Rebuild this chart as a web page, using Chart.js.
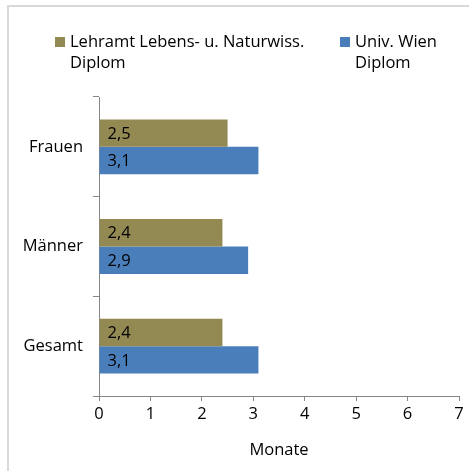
<!DOCTYPE html>
<html>
<head>
<meta charset="utf-8">
<script src="https://cdn.jsdelivr.net/npm/chart.js@4/dist/chart.umd.min.js"></script>
<style>
  body { margin: 0; background: #fff; }
</style>
</head>
<body>
<canvas id="chart" width="469" height="471"></canvas>
<script>
const categories = ['Frauen', 'Männer', 'Gesamt'];
const lehramtValues = [2.5, 2.4, 2.4];
const wienValues = [3.1, 2.9, 3.1];
const seriesLabels = [['Lehramt Lebens- u. Naturwiss.', 'Diplom'], ['Univ. Wien', 'Diplom']];
const xTicks = [0, 1, 2, 3, 4, 5, 6, 7];

const FONT = '"Open Sans", Lato, sans-serif';
const FSIZE = 16.5;
const axisColor = '#868686';

// border around the chart area, like the office export
const frame = {
    id: 'frame',
    beforeDraw(chart) {
        const ctx = chart.ctx;
        ctx.save();
        ctx.strokeStyle = '#d9d9d9';
        ctx.lineWidth = 2;
        ctx.strokeRect(8, 6, 700, 700);
        ctx.restore();
    }
};

// legend with wrapped labels
const legendBox = {
    id: 'legendBox',
    afterDraw(chart) {
        const ctx = chart.ctx;
        const xs = [55, 340];
        ctx.save();
        ctx.font = FSIZE + 'px ' + FONT;
        ctx.textBaseline = 'middle';
        chart.data.datasets.forEach((ds, i) => {
            ctx.fillStyle = ds.backgroundColor;
            ctx.fillRect(xs[i], 37, 10, 10);
            ctx.fillStyle = '#000';
            ds.label.forEach((line, j) => {
                ctx.fillText(line, xs[i] + 15, 42 + j * 21);
            });
        });
        ctx.restore();
    }
};

// value labels inside the bars, left side
const valueLabels = {
    id: 'valueLabels',
    afterDatasetsDraw(chart) {
        const ctx = chart.ctx;
        ctx.save();
        ctx.font = FSIZE + 'px ' + FONT;
        ctx.fillStyle = '#000';
        ctx.textBaseline = 'middle';
        chart.data.datasets.forEach((ds, i) => {
            chart.getDatasetMeta(i).data.forEach((bar, j) => {
                const txt = String(ds.data[j]).replace('.', ',');
                ctx.fillText(txt, bar.base + 8, bar.y + 1);
            });
        });
        ctx.restore();
    }
};

new Chart(document.getElementById('chart'), {
    type: 'bar',
    data: {
        labels: categories,
        datasets: [{
            label: seriesLabels[0],
            data: lehramtValues,
            backgroundColor: '#938953'
        }, {
            label: seriesLabels[1],
            data: wienValues,
            backgroundColor: '#4a7ebb'
        }]
    },
    options: {
        indexAxis: 'y',
        responsive: false,
        animation: false,
        categoryPercentage: 0.55,
        barPercentage: 1.0,
        layout: {
            padding: { top: 97, right: 10, left: 0, bottom: 0 }
        },
        plugins: {
            legend: { display: false },
            tooltip: { enabled: false }
        },
        scales: {
            x: {
                min: 0,
                max: 7,
                afterBuildTicks(scale) {
                    scale.ticks = xTicks.map(v => ({ value: v }));
                },
                afterFit(scale) {
                    scale.height = 75;
                },
                border: { color: axisColor, width: 1 },
                grid: {
                    drawOnChartArea: false,
                    drawTicks: true,
                    tickLength: 5,
                    color: axisColor
                },
                ticks: {
                    color: '#000',
                    padding: 3,
                    font: { family: FONT, size: FSIZE }
                },
                title: {
                    display: true,
                    text: 'Monate',
                    color: '#000',
                    padding: { top: 8, bottom: 11 },
                    font: { family: FONT, size: FSIZE }
                }
            },
            y: {
                afterFit(scale) {
                    scale.width = 99;
                },
                border: { color: axisColor, width: 1 },
                grid: {
                    offset: true,
                    drawOnChartArea: false,
                    drawTicks: true,
                    tickLength: 6,
                    color: axisColor
                },
                ticks: {
                    color: '#000',
                    padding: 10,
                    font: { family: FONT, size: FSIZE }
                }
            }
        }
    },
    plugins: [frame, legendBox, valueLabels]
});
</script>
</body>
</html>
